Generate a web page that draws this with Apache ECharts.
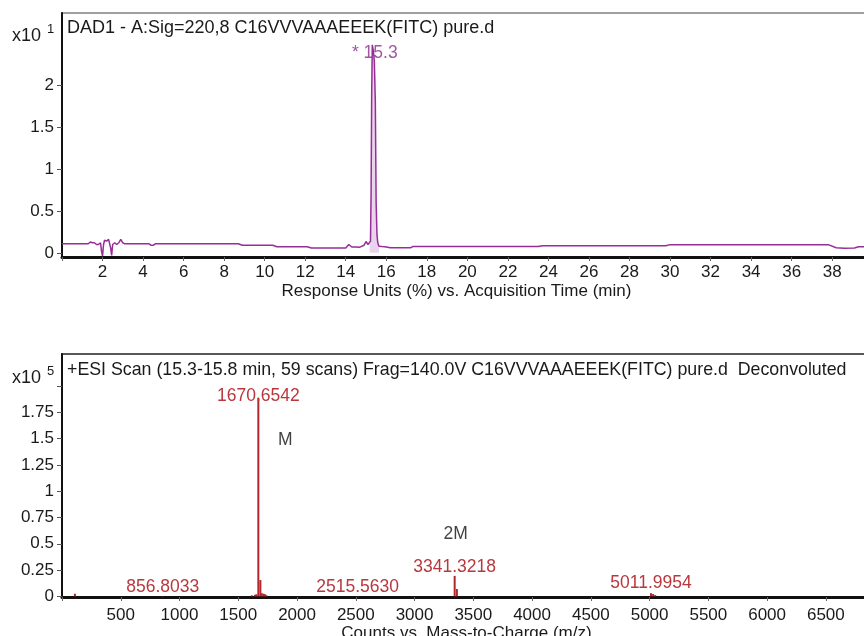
<!DOCTYPE html>
<html>
<head>
<meta charset="utf-8">
<script src="https://cdn.jsdelivr.net/npm/echarts@6/dist/echarts.min.js"></script>
<style>
  html, body { margin: 0; padding: 0; background: #fff; }
  #chart { width: 864px; height: 636px; }
</style>
</head>
<body>
<div id="chart"></div>
<script>
// ---- UV chromatogram (DAD1, 220 nm), response x10^1 vs. time (min) ----
const uvTime = [
  0, 1.3, 1.4, 1.5, 1.6, 1.7, 1.8, 1.9, 1.95, 2.0, 2.05, 2.1, 2.2, 2.3, 2.35, 2.4, 2.45, 2.5, 2.55,
  2.6, 2.7, 2.8, 2.9, 3.0, 3.1, 4.3, 4.4, 4.5, 4.6, 8.7, 8.9, 10.4, 10.6, 12.1, 12.3, 14.0, 14.15,
  14.3, 14.5, 14.7, 14.9, 15.0, 15.1, 15.18, 15.22, 15.25, 15.28, 15.31, 15.36, 15.41, 15.46, 15.5,
  15.54, 15.58, 15.64, 15.8, 16.0, 16.2, 17.2, 17.3, 23.5, 23.7, 29.8, 30.0, 37.8, 38.2, 38.6, 39.1,
  39.3, 39.6
];
const uvResponse = [
  0.108, 0.108, 0.13, 0.12, 0.12, 0.10, 0.10, 0.12, 0.02, -0.04, 0.10, 0.15, 0.14, 0.16, 0.17,
  0.06, -0.03, 0.10, 0.12, 0.12, 0.10, 0.12, 0.16, 0.12, 0.108, 0.108, 0.09, 0.09, 0.108, 0.108,
  0.09, 0.09, 0.072, 0.072, 0.058, 0.058, 0.10, 0.07, 0.07, 0.068, 0.09, 0.135, 0.10, 0.11, 0.14,
  0.7, 1.9, 2.49, 2.42, 2.3, 1.8, 0.6, 0.22, 0.12, 0.08, 0.075, 0.07, 0.06, 0.06, 0.075, 0.075,
  0.085, 0.085, 0.098, 0.098, 0.06, 0.055, 0.058, 0.072, 0.072
];
const uvPeakTime = 15.31;
const uvPeakResponse = 2.49;
const uvPeakLabel = '* 15.3';
const uvPeakStart = 15.18;
const uvPeakEnd = 15.64;
const uvXTicks = [0, 2, 4, 6, 8, 10, 12, 14, 16, 18, 20, 22, 24, 26, 28, 30, 32, 34, 36, 38];
const uvXLabels = [2, 4, 6, 8, 10, 12, 14, 16, 18, 20, 22, 24, 26, 28, 30, 32, 34, 36, 38];
const uvYTicks = [0, 0.5, 1, 1.5, 2];

// ---- Deconvoluted ESI mass spectrum, counts x10^5 vs. m/z ----
const msMass = [
  110, 856.8033, 1615, 1642, 1655, 1670.6542, 1688, 1700, 1715, 1728, 1740,
  2515.5630, 3341.3218, 3360, 5011.9954, 5030, 5048
];
const msCounts = [
  0.025, 0.004, 0.01, 0.015, 0.02, 1.89, 0.155, 0.03, 0.025, 0.02, 0.01,
  0.004, 0.195, 0.07, 0.03, 0.022, 0.012
];
const msLabelled = [856.8033, 1670.6542, 2515.5630, 3341.3218, 5011.9954];
const msAnnotText = ['M', '2M'];
const msAnnotMass = [1900, 3350];
const msAnnotCounts = [1.49, 0.595];
const msXTicks = [0, 500, 1000, 1500, 2000, 2500, 3000, 3500, 4000, 4500, 5000, 5500, 6000, 6500];
const msXLabels = [500, 1000, 1500, 2000, 2500, 3000, 3500, 4000, 4500, 5000, 5500, 6000, 6500];
const msYTicks = [0, 0.25, 0.5, 0.75, 1, 1.25, 1.5, 1.75, 2];
const msYLabels = [0, 0.25, 0.5, 0.75, 1, 1.25, 1.5, 1.75];

const FONT = 'Liberation Sans, Arial, sans-serif';
const TEXT = '#1a1a1a';
const UV_COLOR = '#952f97';
const UV_LABEL = '#8a2a8c';
const MS_COLOR = '#b3262d';
const MS_LABEL = '#b8383e';

const chart = echarts.init(document.getElementById('chart'), null, { renderer: 'canvas' });

function fmtNum(v) { return String(v); }

const uvData = uvTime.map((t, i) => [t, uvResponse[i]]);
const uvPeakData = uvData.filter(p => p[0] >= uvPeakStart && p[0] <= uvPeakEnd);

// label distances above each labelled stick
const msLabelDistance = { 856.8033: 0, 1670.6542: -8, 2515.563: 0, 3341.3218: 0, 5011.9954: 1 };

const msData = msMass.map((m, i) => {
  const item = { value: [m, msCounts[i]] };
  if (msLabelled.indexOf(m) >= 0) {
    item.label = {
      show: true, position: 'top', distance: msLabelDistance[m],
      formatter: m.toFixed(4), color: MS_LABEL, fontSize: 17.5, fontFamily: FONT
    };
  }
  return item;
});

const axisCommonX = {
  type: 'value',
  nameLocation: 'middle',
  axisLine: { show: true, onZero: false, lineStyle: { color: '#111', width: 3 } },
  axisTick: { show: true, length: 4, lineStyle: { color: '#666', width: 1 } },
  axisLabel: { fontSize: 17, color: TEXT, fontFamily: FONT, formatter: fmtNum },
  splitLine: { show: false }
};
const axisCommonY = {
  type: 'value',
  axisLine: { show: true, onZero: false, lineStyle: { color: '#111', width: 2 } },
  axisTick: { show: true, length: 5, lineStyle: { color: '#555', width: 1 } },
  axisLabel: { fontSize: 17, color: TEXT, fontFamily: FONT, margin: 8, formatter: fmtNum },
  splitLine: { show: false }
};

chart.setOption({
  animation: false,
  backgroundColor: '#ffffff',
  grid: [
    { left: 62, top: 13, width: 803, height: 244, outerBoundsMode: 'none', containLabel: false,
      show: true, borderColor: '#808080', borderWidth: 1.5, backgroundColor: 'transparent' },
    { left: 62, top: 354, width: 803, height: 243, outerBoundsMode: 'none', containLabel: false,
      show: true, borderColor: '#222', borderWidth: 1.5, backgroundColor: 'transparent' }
  ],
  xAxis: [
    Object.assign({}, axisCommonX, {
      gridIndex: 0, min: 0, max: 39.62,
      name: 'Response Units (%) vs. Acquisition Time (min)', nameGap: 26,
      nameTextStyle: { fontSize: 17, color: TEXT, fontFamily: FONT, padding: [0, 14, 0, 0] },
      axisTick: Object.assign({}, axisCommonX.axisTick, { customValues: uvXTicks }),
      axisLabel: Object.assign({}, axisCommonX.axisLabel, { customValues: uvXLabels, margin: 7 })
    }),
    Object.assign({}, axisCommonX, {
      gridIndex: 1, min: 0, max: 6833,
      name: 'Counts vs. Mass-to-Charge (m/z)', nameGap: 22,
      nameTextStyle: { fontSize: 17, color: TEXT, fontFamily: FONT, padding: [0, 0, 0, 6] },
      axisTick: Object.assign({}, axisCommonX.axisTick, { customValues: msXTicks }),
      axisLabel: Object.assign({}, axisCommonX.axisLabel, { customValues: msXLabels, margin: 10 })
    })
  ],
  yAxis: [
    Object.assign({}, axisCommonY, {
      gridIndex: 0, min: -0.05, max: 2.87,
      axisTick: Object.assign({}, axisCommonY.axisTick, { customValues: uvYTicks }),
      axisLabel: Object.assign({}, axisCommonY.axisLabel, { customValues: uvYTicks })
    }),
    Object.assign({}, axisCommonY, {
      gridIndex: 1, min: -0.006, max: 2.305,
      axisTick: Object.assign({}, axisCommonY.axisTick, { customValues: msYTicks }),
      axisLabel: Object.assign({}, axisCommonY.axisLabel, { customValues: msYLabels })
    })
  ],
  graphic: [
    { type: 'text', left: 12, top: 27, style: { text: 'x10', fontSize: 18, fill: TEXT, fontFamily: FONT } },
    { type: 'text', left: 47, top: 23, style: { text: '1', fontSize: 13, fill: TEXT, fontFamily: FONT } },
    { type: 'text', left: 67, top: 19, style: { text: 'DAD1 - A:Sig=220,8 C16VVVAAAEEEK(FITC) pure.d', fontSize: 18, fill: TEXT, fontFamily: FONT } },
    { type: 'text', left: 12, top: 369, style: { text: 'x10', fontSize: 18, fill: TEXT, fontFamily: FONT } },
    { type: 'text', left: 47, top: 365, style: { text: '5', fontSize: 13, fill: TEXT, fontFamily: FONT } },
    { type: 'text', left: 67, top: 361, style: { text: '+ESI Scan (15.3-15.8 min, 59 scans) Frag=140.0V C16VVVAAAEEEK(FITC) pure.d  Deconvoluted', fontSize: 17.8, fill: TEXT, fontFamily: FONT } }
  ],
  series: [
    {
      // light fill inside the main chromatographic peak
      type: 'line', xAxisIndex: 0, yAxisIndex: 0,
      data: uvPeakData, symbol: 'none', silent: true,
      lineStyle: { width: 0 },
      areaStyle: { color: 'rgba(195, 130, 200, 0.5)' }
    },
    {
      type: 'line', xAxisIndex: 0, yAxisIndex: 0,
      data: uvData, symbol: 'none', smooth: false, clip: true,
      lineStyle: { color: UV_COLOR, width: 1.5 },
      itemStyle: { color: UV_COLOR }
    },
    {
      type: 'scatter', xAxisIndex: 0, yAxisIndex: 0,
      data: [[uvPeakTime, uvPeakResponse]], symbolSize: 0, silent: true,
      label: {
        show: true, position: 'inside', offset: [2.5, 8],
        formatter: uvPeakLabel, color: UV_LABEL, fontSize: 17.5, fontFamily: FONT
      }
    },
    {
      type: 'bar', xAxisIndex: 1, yAxisIndex: 1,
      data: msData, barWidth: 2, barMinHeight: 0,
      itemStyle: { color: MS_COLOR }
    },
    {
      type: 'scatter', xAxisIndex: 1, yAxisIndex: 1,
      data: msAnnotMass.map((m, i) => ({ value: [m, msAnnotCounts[i]], name: msAnnotText[i] })),
      symbolSize: 0, silent: true,
      label: { show: true, position: 'inside', formatter: '{b}', color: '#111', fontSize: 17.5, fontFamily: FONT }
    }
  ]
});
</script>
</body>
</html>
